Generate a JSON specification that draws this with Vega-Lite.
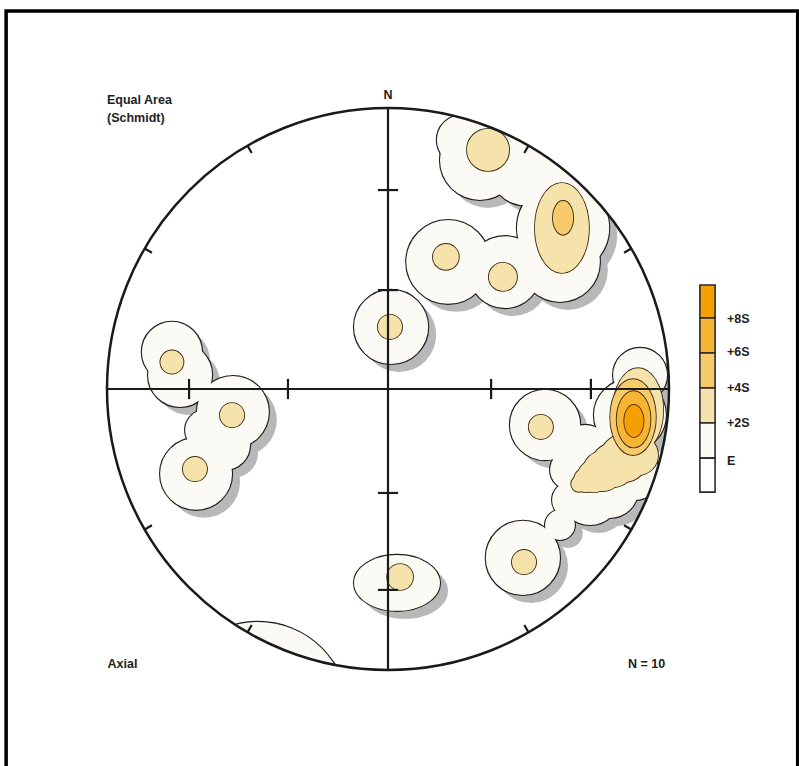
{
  "$schema": "https://vega.github.io/schema/vega-lite/v6.json",
  "width": 799,
  "height": 766,
  "padding": 0,
  "autosize": {"type": "none"},
  "background": "white",
  "config": {"view": {"stroke": null}, "axis": {"disable": true}, "legend": {"disable": true}},
  "datasets": {
    "blobs": [
      {"c": "A", "lev": "E", "form": "round", "x": 0.327, "y": 0.815, "r": 0.142},
      {"c": "A", "lev": "E", "form": "round", "x": 0.263, "y": 0.886, "r": 0.089},
      {"c": "A", "lev": "E", "form": "round", "x": 0.488, "y": 0.779, "r": 0.125},
      {"c": "A", "lev": "E", "form": "round", "x": 0.612, "y": 0.708, "r": 0.125},
      {"c": "A", "lev": "E", "form": "round", "x": 0.623, "y": 0.573, "r": 0.164},
      {"c": "A", "lev": "E", "form": "round", "x": 0.612, "y": 0.452, "r": 0.142},
      {"c": "A", "lev": "E", "form": "round", "x": 0.416, "y": 0.416, "r": 0.128},
      {"c": "A", "lev": "E", "form": "round", "x": 0.214, "y": 0.452, "r": 0.149},
      {"c": "B", "lev": "E", "form": "round", "x": 0.011, "y": 0.221, "r": 0.132},
      {"c": "C", "lev": "E", "form": "wide", "x": 0.032, "y": -0.690, "r": 0.153},
      {"c": "D", "lev": "E", "form": "round", "x": -0.769, "y": 0.132, "r": 0.107},
      {"c": "D", "lev": "E", "form": "round", "x": -0.740, "y": 0.050, "r": 0.114},
      {"c": "D", "lev": "E", "form": "round", "x": -0.552, "y": -0.082, "r": 0.128},
      {"c": "D", "lev": "E", "form": "round", "x": -0.683, "y": -0.302, "r": 0.128},
      {"c": "D", "lev": "E", "form": "round", "x": -0.580, "y": -0.199, "r": 0.089},
      {"c": "D", "lev": "E", "form": "round", "x": -0.651, "y": -0.146, "r": 0.071},
      {"c": "E", "lev": "E", "form": "round", "x": 0.559, "y": -0.128, "r": 0.125},
      {"c": "E", "lev": "E", "form": "round", "x": 0.648, "y": -0.288, "r": 0.071},
      {"c": "E", "lev": "E", "form": "round", "x": 0.648, "y": -0.395, "r": 0.064},
      {"c": "E", "lev": "E", "form": "round", "x": 0.612, "y": -0.484, "r": 0.053},
      {"c": "E", "lev": "E", "form": "round", "x": 0.480, "y": -0.601, "r": 0.132},
      {"c": "E", "lev": "E", "form": "round", "x": 0.897, "y": 0.050, "r": 0.096},
      {"c": "E", "lev": "E", "form": "round", "x": 0.861, "y": -0.093, "r": 0.128},
      {"c": "E", "lev": "E", "form": "round", "x": 0.808, "y": -0.253, "r": 0.128},
      {"c": "E", "lev": "E", "form": "round", "x": 0.879, "y": -0.306, "r": 0.089},
      {"c": "E", "lev": "E", "form": "round", "x": 0.790, "y": -0.359, "r": 0.100},
      {"c": "E", "lev": "E", "form": "round", "x": 0.719, "y": -0.377, "r": 0.107},
      {"c": "E", "lev": "E", "form": "round", "x": 0.701, "y": -0.217, "r": 0.089},
      {"c": "F", "lev": "E", "form": "round", "x": -0.463, "y": -1.149, "r": 0.320},
      {"c": "A", "lev": "+2S", "form": "round", "x": 0.356, "y": 0.851, "r": 0.075},
      {"c": "A", "lev": "+2S", "form": "tall", "x": 0.619, "y": 0.573, "r": 0.160},
      {"c": "A", "lev": "+2S", "form": "round", "x": 0.206, "y": 0.470, "r": 0.046},
      {"c": "A", "lev": "+2S", "form": "round", "x": 0.409, "y": 0.399, "r": 0.050},
      {"c": "B", "lev": "+2S", "form": "round", "x": 0.007, "y": 0.221, "r": 0.043},
      {"c": "C", "lev": "+2S", "form": "round", "x": 0.043, "y": -0.669, "r": 0.046},
      {"c": "D", "lev": "+2S", "form": "round", "x": -0.769, "y": 0.096, "r": 0.041},
      {"c": "D", "lev": "+2S", "form": "round", "x": -0.555, "y": -0.093, "r": 0.043},
      {"c": "D", "lev": "+2S", "form": "round", "x": -0.687, "y": -0.285, "r": 0.043},
      {"c": "E", "lev": "+2S", "form": "round", "x": 0.544, "y": -0.135, "r": 0.043},
      {"c": "E", "lev": "+2S", "form": "round", "x": 0.484, "y": -0.616, "r": 0.043},
      {"c": "E", "lev": "+2S", "form": "tall", "x": 0.890, "y": -0.075, "r": 0.149},
      {"c": "E", "lev": "+2S", "form": "round", "x": 0.890, "y": -0.235, "r": 0.071},
      {"c": "E", "lev": "+2S", "form": "round", "x": 0.840, "y": -0.246, "r": 0.085},
      {"c": "E", "lev": "+2S", "form": "round", "x": 0.801, "y": -0.271, "r": 0.078},
      {"c": "E", "lev": "+2S", "form": "round", "x": 0.765, "y": -0.292, "r": 0.071},
      {"c": "E", "lev": "+2S", "form": "round", "x": 0.733, "y": -0.310, "r": 0.057},
      {"c": "E", "lev": "+2S", "form": "round", "x": 0.705, "y": -0.324, "r": 0.043},
      {"c": "E", "lev": "+2S", "form": "round", "x": 0.680, "y": -0.338, "r": 0.028},
      {"c": "A", "lev": "+4S", "form": "tall", "x": 0.623, "y": 0.609, "r": 0.060},
      {"c": "E", "lev": "+4S", "form": "tall", "x": 0.872, "y": -0.100, "r": 0.135},
      {"c": "E", "lev": "+6S", "form": "tall", "x": 0.874, "y": -0.108, "r": 0.100},
      {"c": "E", "lev": "+8S", "form": "tall", "x": 0.875, "y": -0.114, "r": 0.057}
    ],
    "lines": [
      {"x1": -1, "y1": 0, "x2": 1, "y2": 0},
      {"x1": 0, "y1": -1, "x2": 0, "y2": 1},
      {"x1": -0.708, "y1": -0.036, "x2": -0.708, "y2": 0.036},
      {"x1": -0.356, "y1": -0.036, "x2": -0.356, "y2": 0.036},
      {"x1": 0.367, "y1": -0.036, "x2": 0.367, "y2": 0.036},
      {"x1": 0.722, "y1": -0.036, "x2": 0.722, "y2": 0.036},
      {"x1": -0.036, "y1": 0.708, "x2": 0.036, "y2": 0.708},
      {"x1": -0.036, "y1": 0.352, "x2": 0.036, "y2": 0.352},
      {"x1": -0.036, "y1": -0.37, "x2": 0.036, "y2": -0.37},
      {"x1": -0.036, "y1": -0.715, "x2": 0.036, "y2": -0.715},
      {"x1": 0.5, "y1": 0.866, "x2": 0.485, "y2": 0.84},
      {"x1": 0.866, "y1": 0.5, "x2": 0.84, "y2": 0.485},
      {"x1": 0.866, "y1": -0.5, "x2": 0.84, "y2": -0.485},
      {"x1": 0.5, "y1": -0.866, "x2": 0.485, "y2": -0.84},
      {"x1": -0.5, "y1": -0.866, "x2": -0.485, "y2": -0.84},
      {"x1": -0.866, "y1": -0.5, "x2": -0.84, "y2": -0.485},
      {"x1": -0.866, "y1": 0.5, "x2": -0.84, "y2": 0.485},
      {"x1": -0.5, "y1": 0.866, "x2": -0.485, "y2": 0.84}
    ],
    "legend": [
      {"band": "+8S", "y1": 0.370, "y2": 0.253, "x1": 1.110, "x2": 1.164},
      {"band": "+6S", "y1": 0.253, "y2": 0.128, "x1": 1.110, "x2": 1.164},
      {"band": "+4S", "y1": 0.128, "y2": 0.004, "x1": 1.110, "x2": 1.164},
      {"band": "+2S", "y1": 0.004, "y2": -0.121, "x1": 1.110, "x2": 1.164},
      {"band": "E", "y1": -0.121, "y2": -0.246, "x1": 1.110, "x2": 1.164},
      {"band": "0", "y1": -0.246, "y2": -0.367, "x1": 1.110, "x2": 1.164}
    ],
    "labels": [
      {"t": "Equal Area", "x": -1.0, "y": 1.030},
      {"t": "(Schmidt)", "x": -1.0, "y": 0.966},
      {"t": "Axial", "x": -0.998, "y": -0.977},
      {"t": "N = 10", "x": 0.854, "y": -0.980},
      {"t": "+8S", "x": 1.206, "y": 0.250},
      {"t": "+6S", "x": 1.206, "y": 0.130},
      {"t": "+4S", "x": 1.206, "y": 0.004},
      {"t": "+2S", "x": 1.206, "y": -0.121},
      {"t": "E", "x": 1.206, "y": -0.258}
    ]
  },
  "layer": [
    {
      "data": {"name": "blobs"},
      "transform": [{"filter": "datum.lev == 'E'"}],
      "mark": {"type": "point", "filled": true, "opacity": 1, "color": "#b8b8b8", "strokeWidth": 0, "xOffset": 8, "yOffset": 8},
      "encoding": {
        "x": {"field": "x", "type": "quantitative", "scale": {"domain": [-1.38078, 1.46263], "nice": false, "zero": false}},
        "y": {"field": "y", "type": "quantitative", "scale": {"domain": [-1.34164, 1.38434], "nice": false, "zero": false}},
        "size": {"field": "r", "type": "quantitative", "scale": {"type": "pow", "exponent": 2, "domain": [0, 1], "range": [0, 315844]}},
        "shape": {"field": "form", "type": "nominal", "scale": {"domain": ["round", "tall", "wide"], "range": ["circle", "M 0 -1 C 0.331 -1 0.6 -0.552 0.6 0 C 0.6 0.552 0.331 1 0 1 C -0.331 1 -0.6 0.552 -0.6 0 C -0.6 -0.552 -0.331 -1 0 -1 Z", "M -1 0 C -1 -0.359 -0.552 -0.65 0 -0.65 C 0.552 -0.65 1 -0.359 1 0 C 1 0.359 0.552 0.65 0 0.65 C -0.552 0.65 -1 0.359 -1 0 Z"]}}
      }
    },
    {
      "data": {"name": "blobs"},
      "transform": [{"filter": "datum.lev == 'E'"}],
      "mark": {"type": "point", "filled": true, "opacity": 1, "color": "#1e1e1e", "stroke": "#1e1e1e", "strokeWidth": 2.2},
      "encoding": {
        "x": {"field": "x", "type": "quantitative"},
        "y": {"field": "y", "type": "quantitative"},
        "size": {"field": "r", "type": "quantitative"},
        "shape": {"field": "form", "type": "nominal"}
      }
    },
    {
      "data": {"name": "blobs"},
      "transform": [{"filter": "datum.lev == 'E'"}],
      "mark": {"type": "point", "filled": true, "opacity": 1, "strokeWidth": 0},
      "encoding": {
        "x": {"field": "x", "type": "quantitative"},
        "y": {"field": "y", "type": "quantitative"},
        "size": {"field": "r", "type": "quantitative"},
        "shape": {"field": "form", "type": "nominal"},
        "color": {"field": "lev", "type": "nominal", "scale": {"domain": ["0", "E", "+2S", "+4S", "+6S", "+8S"], "range": ["#ffffff", "#fcfaf5", "#f6e2ab", "#f7cb6a", "#f6b634", "#f3a000"]}}
      }
    },
    {
      "data": {"name": "blobs"},
      "transform": [{"filter": "datum.lev == '+2S'"}],
      "mark": {"type": "point", "filled": true, "opacity": 1, "color": "#3a2a12", "stroke": "#3a2a12", "strokeWidth": 1.8},
      "encoding": {
        "x": {"field": "x", "type": "quantitative"},
        "y": {"field": "y", "type": "quantitative"},
        "size": {"field": "r", "type": "quantitative"},
        "shape": {"field": "form", "type": "nominal"}
      }
    },
    {
      "data": {"name": "blobs"},
      "transform": [{"filter": "datum.lev == '+2S'"}],
      "mark": {"type": "point", "filled": true, "opacity": 1, "strokeWidth": 0},
      "encoding": {
        "x": {"field": "x", "type": "quantitative"},
        "y": {"field": "y", "type": "quantitative"},
        "size": {"field": "r", "type": "quantitative"},
        "shape": {"field": "form", "type": "nominal"},
        "color": {"field": "lev", "type": "nominal"}
      }
    },
    {
      "data": {"name": "blobs"},
      "transform": [{"filter": "datum.lev == '+4S'"}],
      "mark": {"type": "point", "filled": true, "opacity": 1, "color": "#3a2a12", "stroke": "#3a2a12", "strokeWidth": 1.8},
      "encoding": {
        "x": {"field": "x", "type": "quantitative"},
        "y": {"field": "y", "type": "quantitative"},
        "size": {"field": "r", "type": "quantitative"},
        "shape": {"field": "form", "type": "nominal"}
      }
    },
    {
      "data": {"name": "blobs"},
      "transform": [{"filter": "datum.lev == '+4S'"}],
      "mark": {"type": "point", "filled": true, "opacity": 1, "strokeWidth": 0},
      "encoding": {
        "x": {"field": "x", "type": "quantitative"},
        "y": {"field": "y", "type": "quantitative"},
        "size": {"field": "r", "type": "quantitative"},
        "shape": {"field": "form", "type": "nominal"},
        "color": {"field": "lev", "type": "nominal"}
      }
    },
    {
      "data": {"name": "blobs"},
      "transform": [{"filter": "datum.lev == '+6S'"}],
      "mark": {"type": "point", "filled": true, "opacity": 1, "color": "#3a2a12", "stroke": "#3a2a12", "strokeWidth": 1.8},
      "encoding": {
        "x": {"field": "x", "type": "quantitative"},
        "y": {"field": "y", "type": "quantitative"},
        "size": {"field": "r", "type": "quantitative"},
        "shape": {"field": "form", "type": "nominal"}
      }
    },
    {
      "data": {"name": "blobs"},
      "transform": [{"filter": "datum.lev == '+6S'"}],
      "mark": {"type": "point", "filled": true, "opacity": 1, "strokeWidth": 0},
      "encoding": {
        "x": {"field": "x", "type": "quantitative"},
        "y": {"field": "y", "type": "quantitative"},
        "size": {"field": "r", "type": "quantitative"},
        "shape": {"field": "form", "type": "nominal"},
        "color": {"field": "lev", "type": "nominal"}
      }
    },
    {
      "data": {"name": "blobs"},
      "transform": [{"filter": "datum.lev == '+8S'"}],
      "mark": {"type": "point", "filled": true, "opacity": 1, "color": "#6a2a08", "stroke": "#6a2a08", "strokeWidth": 1.8},
      "encoding": {
        "x": {"field": "x", "type": "quantitative"},
        "y": {"field": "y", "type": "quantitative"},
        "size": {"field": "r", "type": "quantitative"},
        "shape": {"field": "form", "type": "nominal"}
      }
    },
    {
      "data": {"name": "blobs"},
      "transform": [{"filter": "datum.lev == '+8S'"}],
      "mark": {"type": "point", "filled": true, "opacity": 1, "strokeWidth": 0},
      "encoding": {
        "x": {"field": "x", "type": "quantitative"},
        "y": {"field": "y", "type": "quantitative"},
        "size": {"field": "r", "type": "quantitative"},
        "shape": {"field": "form", "type": "nominal"},
        "color": {"field": "lev", "type": "nominal"}
      }
    },
    {
      "data": {"values": [{"x": 0, "y": 0, "r": 1.892}]},
      "mark": {"type": "point", "filled": false, "opacity": 1, "stroke": "white", "strokeWidth": 500},
      "encoding": {
        "x": {"field": "x", "type": "quantitative"},
        "y": {"field": "y", "type": "quantitative"},
        "size": {"field": "r", "type": "quantitative"}
      }
    },
    {
      "data": {"values": [{"x": 0, "y": 0, "r": 1}]},
      "mark": {"type": "point", "filled": false, "opacity": 1, "stroke": "#1a1a1a", "strokeWidth": 2.5},
      "encoding": {
        "x": {"field": "x", "type": "quantitative"},
        "y": {"field": "y", "type": "quantitative"},
        "size": {"field": "r", "type": "quantitative"}
      }
    },
    {
      "data": {"name": "lines"},
      "mark": {"type": "rule", "color": "#1a1a1a", "strokeWidth": 2.2},
      "encoding": {
        "x": {"field": "x1", "type": "quantitative"},
        "y": {"field": "y1", "type": "quantitative"},
        "x2": {"field": "x2"},
        "y2": {"field": "y2"}
      }
    },
    {
      "data": {"values": [{"x1": -1.359, "x2": 1.458, "y1": 1.345, "y2": -1.42}]},
      "mark": {"type": "rect", "fill": null, "fillOpacity": 0, "stroke": "#000000", "strokeWidth": 3.5},
      "encoding": {
        "x": {"field": "x1", "type": "quantitative"},
        "x2": {"field": "x2"},
        "y": {"field": "y1", "type": "quantitative"},
        "y2": {"field": "y2"}
      }
    },
    {
      "data": {"name": "legend"},
      "mark": {"type": "rect", "stroke": "#2a2a2a", "strokeWidth": 1.6, "opacity": 1},
      "encoding": {
        "x": {"field": "x1", "type": "quantitative"},
        "x2": {"field": "x2"},
        "y": {"field": "y1", "type": "quantitative"},
        "y2": {"field": "y2"},
        "color": {"field": "band", "type": "nominal"}
      }
    },
    {
      "data": {"name": "labels"},
      "mark": {"type": "text", "align": "left", "baseline": "middle", "font": "Liberation Sans", "fontWeight": "bold", "fontSize": 12.5, "color": "#222222"},
      "encoding": {
        "x": {"field": "x", "type": "quantitative"},
        "y": {"field": "y", "type": "quantitative"},
        "text": {"field": "t"}
      }
    },
    {
      "data": {"values": [{"t": "N", "x": 0, "y": 1.046}]},
      "mark": {"type": "text", "align": "center", "baseline": "middle", "font": "Liberation Sans", "fontWeight": "bold", "fontSize": 12.5, "color": "#222222"},
      "encoding": {
        "x": {"field": "x", "type": "quantitative"},
        "y": {"field": "y", "type": "quantitative"},
        "text": {"field": "t"}
      }
    }
  ]
}
